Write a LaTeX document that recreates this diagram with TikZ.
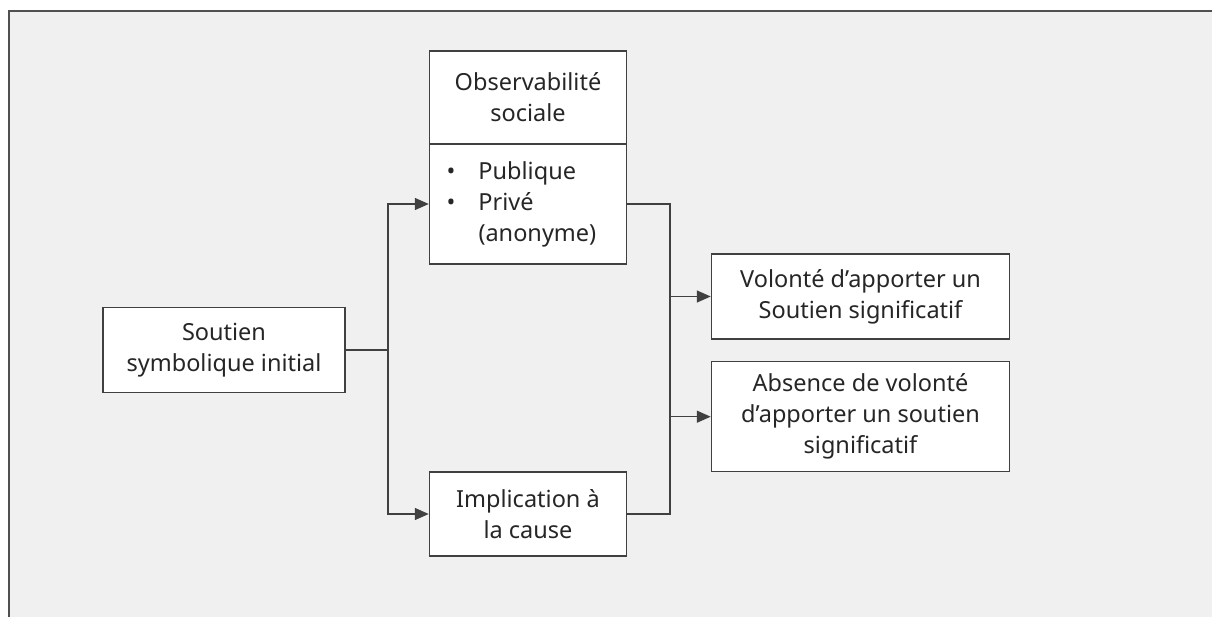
\documentclass[tikz,border=0pt]{standalone}
\usepackage{fontspec}
\setmainfont{Noto Sans}
\usetikzlibrary{arrows.meta}
\definecolor{bgc}{HTML}{F0F0F0}
\definecolor{framec}{HTML}{505050}
\definecolor{linec}{HTML}{404040}
\definecolor{textc}{HTML}{262626}
\tikzset{
  box/.style={draw=linec, fill=white, line width=1.5pt, inner sep=0pt, align=center,
    text=textc, font=\fontsize{23.5}{31}\selectfont},
  conn/.style={draw=linec, line width=1.5pt},
  arr/.style={conn, -{Triangle[length=14pt,width=12pt]}},
}
\begin{document}
\begin{tikzpicture}[x=1pt,y=-1pt]
\useasboundingbox (0,0) rectangle (1212,616);
\clip (0,0) rectangle (1212,616);
\fill[white] (0,0) rectangle (1212,616);
\draw[framec, fill=bgc, line width=2pt] (8.5,10.5) rectangle (1230,640);

\node[box, minimum width=242pt, minimum height=85pt] (sout) at (224,350) {Soutien\\symbolique initial};
\node[box, minimum width=197pt, minimum height=93pt] (obsh) at (528,97.5) {Observabilité\\sociale};
\node[box, minimum width=197pt, minimum height=120pt, text width=197pt, align=left] (obsb) at (528,204)
  {\hspace*{17pt}\makebox[32pt][l]{•}Publique\\\hspace*{17pt}\makebox[32pt][l]{•}Privé\\\hspace*{49pt}(anonyme)};
\node[box, minimum width=197pt, minimum height=84pt] (impl) at (528,514) {Implication à\\la cause};
\node[box, minimum width=298pt, minimum height=85pt] (vol) at (860.5,296.5) {Volonté d’apporter un\\Soutien significatif};
\node[box, minimum width=298pt, minimum height=110pt] (abs) at (860.5,416.7) {Absence de volonté\\d’apporter un soutien\\significatif};

\coordinate (j1) at (388,350);
\coordinate (j2) at (670,296.5);
\draw[conn] (sout.east) -- (j1);
\draw[arr] (j1) |- (obsb.west);
\draw[arr] (j1) |- (impl.west);
\draw[conn] (obsb.east) -| (j2) |- (impl.east);
\draw[arr] (j2) -- (vol.west);
\draw[arr] (j2 |- abs.west) -- (abs.west);
\end{tikzpicture}
\end{document}
